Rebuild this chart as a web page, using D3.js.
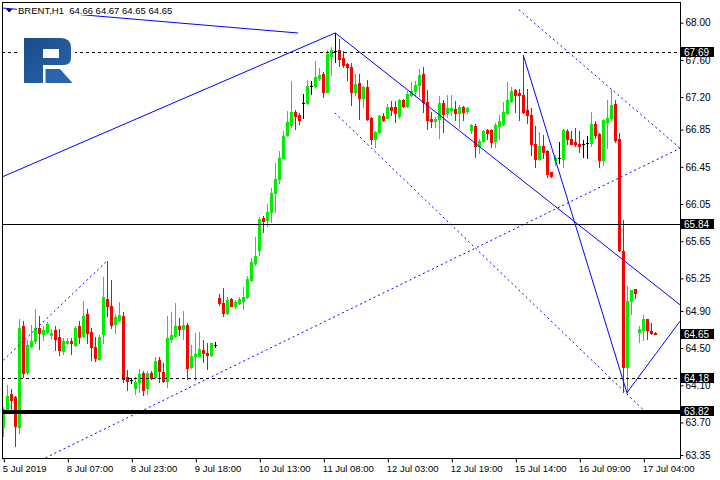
<!DOCTYPE html>
<html><head><meta charset="utf-8">
<script src="https://cdn.jsdelivr.net/npm/d3@7/dist/d3.min.js"></script>
<style>
html,body{margin:0;padding:0;background:#fff;}
svg{display:block;}
</style></head><body>
<svg id="chart" width="720" height="480"></svg>
<script>
// ---------- DATA ----------
const symbol = "BRENT,H1";
const open = [63.65,63.81,64.01,63.97,63.65,64.74,64.24,64.52,64.58,64.72,64.65,64.67,64.64,64.69,64.62,64.47,64.56,64.58,64.53,64.74,
64.63,64.87,64.67,64.51,64.38,64.65,65.03,64.95,64.76,64.80,64.85,64.19,64.16,64.07,64.14,64.23,64.07,64.23,64.19,64.37,
64.24,64.15,64.60,64.63,64.74,64.71,64.75,64.30,64.41,64.42,64.48,64.45,64.43,64.53,65.04,64.99,64.88,65.03,64.95,64.99,
65.01,65.05,65.23,65.41,65.56,65.90,65.88,65.96,66.17,66.32,66.55,66.79,66.90,67.04,67.01,67.14,67.14,67.32,67.32,67.41,
67.45,67.25,67.64,67.70,67.71,67.62,67.56,67.52,67.25,67.35,67.19,67.31,66.98,66.75,66.82,67.00,66.98,67.09,67.09,67.00,
67.17,67.10,67.22,67.26,67.33,67.45,67.15,66.96,66.94,66.96,67.14,67.03,67.06,67.07,67.03,67.09,67.05,66.85,66.89,66.67,
66.73,66.85,66.85,66.73,66.89,66.91,67.03,67.16,67.28,67.24,67.22,67.06,67.01,66.70,66.53,66.67,66.62,66.39,66.52,66.55,
66.53,66.83,66.75,66.72,66.70,66.69,66.71,66.71,66.91,66.80,66.52,66.93,66.98,67.13,66.75,65.54,64.30,65.01,65.14,64.67,
64.69,64.81,64.68,64.66];
const high = [63.87,64.10,64.06,63.99,64.81,64.79,64.59,64.75,64.92,64.84,64.74,64.78,64.71,64.74,64.70,64.61,64.61,64.61,64.74,64.79,
65.01,64.92,64.72,64.62,64.64,65.27,65.44,65.23,64.87,65.00,64.89,64.26,64.18,64.19,64.28,64.25,64.25,64.25,64.40,64.40,
64.34,64.85,64.89,64.99,64.82,64.90,64.77,64.53,64.66,64.67,64.59,64.55,64.56,64.57,65.08,65.15,65.05,65.04,65.02,65.05,
65.16,65.28,65.47,65.69,65.91,65.92,66.05,66.22,66.49,66.62,66.83,67.05,67.37,67.06,67.03,67.23,67.38,67.37,67.59,67.51,
67.47,67.71,67.74,67.89,67.82,67.70,67.57,67.57,67.45,67.45,67.32,67.38,66.99,66.83,67.01,67.03,67.13,67.16,67.16,67.18,
67.18,67.26,67.36,67.37,67.50,67.52,67.28,67.04,66.99,67.21,67.17,67.22,67.22,67.16,67.12,67.10,67.09,66.91,66.91,66.75,
66.85,66.86,66.86,66.92,67.01,67.15,67.36,67.31,67.29,67.29,67.65,67.29,67.08,66.89,66.82,66.79,66.63,66.39,66.58,66.72,
66.86,66.86,66.83,66.87,66.83,66.74,66.78,67.04,66.94,66.81,66.96,67.17,67.28,67.17,66.81,65.88,65.17,65.13,65.14,64.74,
64.86,64.81,64.77,64.67];
const low = [63.55,63.80,63.84,63.45,63.59,64.19,64.22,64.51,64.55,64.49,64.59,64.66,64.61,64.48,64.43,64.44,64.54,64.44,64.52,64.55,
64.62,64.55,64.37,64.36,64.37,64.56,64.84,64.72,64.66,64.79,64.13,64.05,64.12,64.01,64.03,64.00,64.01,64.17,64.18,64.13,
64.14,64.08,64.57,64.62,64.64,64.60,64.17,64.29,64.16,64.41,64.35,64.27,64.42,64.51,64.96,64.85,64.87,64.95,64.93,64.97,
64.92,65.04,65.22,65.39,65.50,65.75,65.81,65.86,65.96,66.28,66.54,66.78,66.88,66.86,66.91,66.98,67.13,67.23,67.31,67.38,
67.20,67.25,67.44,67.58,67.53,67.52,67.38,67.12,67.22,66.96,67.09,66.95,66.70,66.66,66.81,66.94,66.97,67.01,66.93,66.98,
67.09,67.09,67.21,67.21,67.21,67.04,66.86,66.88,66.88,66.76,66.82,66.99,67.01,66.95,66.87,66.95,67.03,66.81,66.56,66.60,
66.72,66.75,66.66,66.66,66.75,66.90,67.02,67.15,67.04,66.95,67.03,66.92,66.58,66.45,66.52,66.54,66.34,66.34,66.47,66.49,
66.45,66.70,66.69,66.67,66.61,66.56,66.54,66.67,66.76,66.45,66.47,66.65,66.95,66.72,65.54,64.03,64.01,64.87,65.04,64.57,
64.59,64.60,64.65,64.65];
const close = [63.84,63.99,63.94,63.66,64.72,64.23,64.53,64.58,64.72,64.66,64.69,64.76,64.66,64.60,64.48,64.58,64.58,64.55,64.72,64.62,
64.85,64.66,64.51,64.39,64.62,65.05,64.95,64.75,64.83,64.86,64.17,64.15,64.16,64.14,64.22,64.05,64.23,64.18,64.36,64.25,
64.15,64.61,64.64,64.74,64.71,64.75,64.29,64.42,64.44,64.49,64.45,64.43,64.55,64.53,64.99,64.88,65.02,64.95,65.00,65.03,
65.05,65.24,65.43,65.49,65.89,65.87,65.96,66.17,66.32,66.55,66.78,66.93,67.04,67.00,66.95,67.14,67.32,67.32,67.42,67.44,
67.25,67.66,67.71,67.70,67.61,67.54,67.52,67.25,67.34,67.19,67.31,66.96,66.75,66.82,67.00,66.95,67.09,67.06,67.03,67.17,
67.10,67.23,67.27,67.33,67.44,67.15,66.95,66.94,66.96,67.14,67.02,67.08,67.08,67.03,67.09,67.04,67.08,66.90,66.67,66.73,
66.84,66.81,66.72,66.90,66.94,67.04,67.17,67.27,67.22,67.22,67.04,67.01,66.69,66.53,66.67,66.61,66.37,66.35,66.55,66.55,
66.85,66.75,66.70,66.69,66.67,66.69,66.71,66.91,66.79,66.52,66.95,66.98,67.11,66.74,65.55,64.30,65.01,65.13,65.09,64.70,
64.81,64.69,64.66,64.65];
const bars = d3.range(open.length);

const tickBars   = [0,16,32,48,64,80,96,112,128,144,160];
const tickLabels = ["5 Jul 2019","8 Jul 07:00","8 Jul 23:00","9 Jul 18:00","10 Jul 13:00","11 Jul 08:00",
                    "12 Jul 03:00","12 Jul 19:00","15 Jul 14:00","16 Jul 09:00","17 Jul 04:00"];
const priceTicks = [68.00,67.60,67.20,66.85,66.45,66.05,65.65,65.25,64.90,64.50,64.10,63.70,63.35];

// horizontal levels: price, style
const levelPrices = [67.69, 65.84, 64.18, 63.82];
const levelStyles = ["dash", "solid", "dash", "thick"];

// trend lines as [bar, price] pairs
const solidLines = [
  [[-0.33, 68.158], [73.7, 67.889]],
  [[-0.33, 66.34], [83, 67.89]],
  [[83, 67.89], [169.2, 64.965]],
  [[130, 67.65], [155.9, 64.02]],
  [[155.9, 64.02], [169.2, 64.79]]
];
const dottedLines = [
  [[0, 64.37], [26, 65.44]],
  [[10.55, 63.32], [169.2, 66.65]],
  [[82.9, 67.03], [160.4, 63.82]],
  [[128.9, 68.14], [169.2, 66.65]]
];

// ---------- CHART ----------
const svg = d3.select("#chart");
const FONT = "'Liberation Sans', Arial, sans-serif";
const plot = {left: 2, top: 3, right: 680, bottom: 459};

const x = d3.scaleLinear().domain([0, 163]).range([3.3, 655.3]);
const y = d3.scaleLinear().domain([63.35, 68.00]).range([455, 22.7]);

svg.append("rect").attr("width", 720).attr("height", 480).attr("fill", "#fff");

const defs = svg.append("defs");
defs.append("clipPath").attr("id", "clip").append("rect")
  .attr("x", plot.left).attr("y", plot.top)
  .attr("width", plot.right - plot.left).attr("height", plot.bottom - plot.top);
const grad = defs.append("linearGradient").attr("id", "lg").attr("x1", 0).attr("y1", 0).attr("x2", 1).attr("y2", 1);
grad.append("stop").attr("offset", "0%").attr("stop-color", "#1b4b8a");
grad.append("stop").attr("offset", "100%").attr("stop-color", "#2a65ae");

const g = svg.append("g").attr("clip-path", "url(#clip)");

// candles
const UP = "#00ee00", DOWN = "#ff0000", DOJI = "#000000";
const colorOf = i => close[i] > open[i] ? UP : (close[i] < open[i] ? DOWN : DOJI);
const cg = g.append("g").attr("shape-rendering", "crispEdges");
bars.forEach(i => {
  const cx = Math.floor(x(i));
  const col = colorOf(i);
  const yh = Math.round(y(high[i])), yl = Math.round(y(low[i]));
  cg.append("rect").attr("x", cx).attr("y", yh).attr("width", 1).attr("height", Math.max(1, yl - yh + 1)).attr("fill", col);
  const yo = Math.round(y(open[i])), yc = Math.round(y(close[i]));
  const top = Math.min(yo, yc), h = Math.abs(yo - yc);
  cg.append("rect").attr("x", cx - 1).attr("y", top).attr("width", 3).attr("height", Math.max(1, h + (h > 0 ? 1 : 0))).attr("fill", col);
});

// horizontal levels
levelPrices.forEach((p, k) => {
  const st = levelStyles[k];
  const yy = Math.round(y(p)) + 0.5;
  g.append("line").attr("x1", plot.left).attr("x2", plot.right).attr("y1", yy).attr("y2", yy)
    .attr("stroke", "#000")
    .attr("stroke-width", st === "thick" ? 4 : 1)
    .attr("stroke-dasharray", st === "dash" ? "3,3" : null)
    .attr("shape-rendering", "crispEdges");
});

// trend lines
const lineGen = d3.line().x(d => x(d[0])).y(d => y(d[1]));
solidLines.forEach(l => g.append("path").attr("d", lineGen(l)).attr("fill", "none")
  .attr("stroke", "#0000ff").attr("stroke-width", 1));
dottedLines.forEach(l => g.append("path").attr("d", lineGen(l)).attr("fill", "none")
  .attr("stroke", "#0000ff").attr("stroke-width", 1).attr("stroke-dasharray", "2,3"));

// logo
const logo = svg.append("g");
logo.append("rect").attr("x", 17).attr("y", 33).attr("width", 58).attr("height", 55).attr("fill", "#fff");
logo.append("path").attr("fill", "url(#lg)")
  .attr("d", "M24,38 H61 Q71,38 71,48 V58 Q71,65 64,65 H43 V83 H24 Z M43,49 V58 H59 V49 Z")
  .attr("fill-rule", "evenodd");
logo.append("path").attr("fill", "#2a64ad").attr("d", "M45.5,69 H60 L72.5,83 H45.5 Z");

// frame
svg.append("rect").attr("x", plot.left + 0.5).attr("y", plot.top - 0.5)
  .attr("width", plot.right - plot.left).attr("height", plot.bottom - plot.top)
  .attr("fill", "none").attr("stroke", "#000").attr("shape-rendering", "crispEdges");

// right axis
const yAxis = d3.axisRight(y).tickValues(priceTicks).tickFormat(d3.format(".2f")).tickSize(3).tickSizeOuter(0).tickPadding(2);
const ya = svg.append("g").attr("transform", `translate(${plot.right + 0.5},0)`).call(yAxis);
ya.select(".domain").remove();
ya.selectAll("text").attr("font-family", FONT).attr("font-size", 10).attr("fill", "#000");
ya.selectAll("line").attr("stroke", "#000");

// bottom axis
const xAxis = d3.axisBottom(x).tickValues(tickBars).tickFormat((d, i) => tickLabels[i]).tickSize(4).tickSizeOuter(0);
const xa = svg.append("g").attr("transform", `translate(0.5,${plot.bottom - 0.5})`).call(xAxis);
xa.select(".domain").remove();
xa.selectAll("line").attr("stroke", "#000");
xa.selectAll("text").attr("font-family", FONT).attr("font-size", 9.5).attr("fill", "#000")
  .attr("text-anchor", "start").attr("dx", -1.5).attr("y", 5).attr("dy", "0.85em");

// highlighted price labels
const boxPrices = levelPrices.concat([close[close.length - 1]]);
boxPrices.forEach(p => {
  const yy = y(p);
  svg.append("rect").attr("x", 681).attr("y", Math.round(yy) - 5).attr("width", 33).attr("height", 10).attr("fill", "#000");
  svg.append("text").attr("x", 684).attr("y", Math.round(yy) + 4)
    .attr("font-family", FONT).attr("font-size", 10).attr("fill", "#fff").text(p.toFixed(2));
});

// title
const last = open.length - 1;
svg.append("rect").attr("x", 17).attr("y", 5).attr("width", 156).attr("height", 10).attr("fill", "#fff");
svg.append("path").attr("d", "M6,9 H12.5 L9.25,12.5 Z").attr("fill", "#000");
svg.append("text").attr("x", 18).attr("y", 14).attr("font-family", FONT).attr("font-size", 9.5).attr("fill", "#000")
  .attr("xml:space", "preserve")
  .text(`${symbol}  ${open[last].toFixed(2)} ${high[last].toFixed(2)} ${low[last].toFixed(2)} ${close[last].toFixed(2)}`);
</script>
</body></html>
